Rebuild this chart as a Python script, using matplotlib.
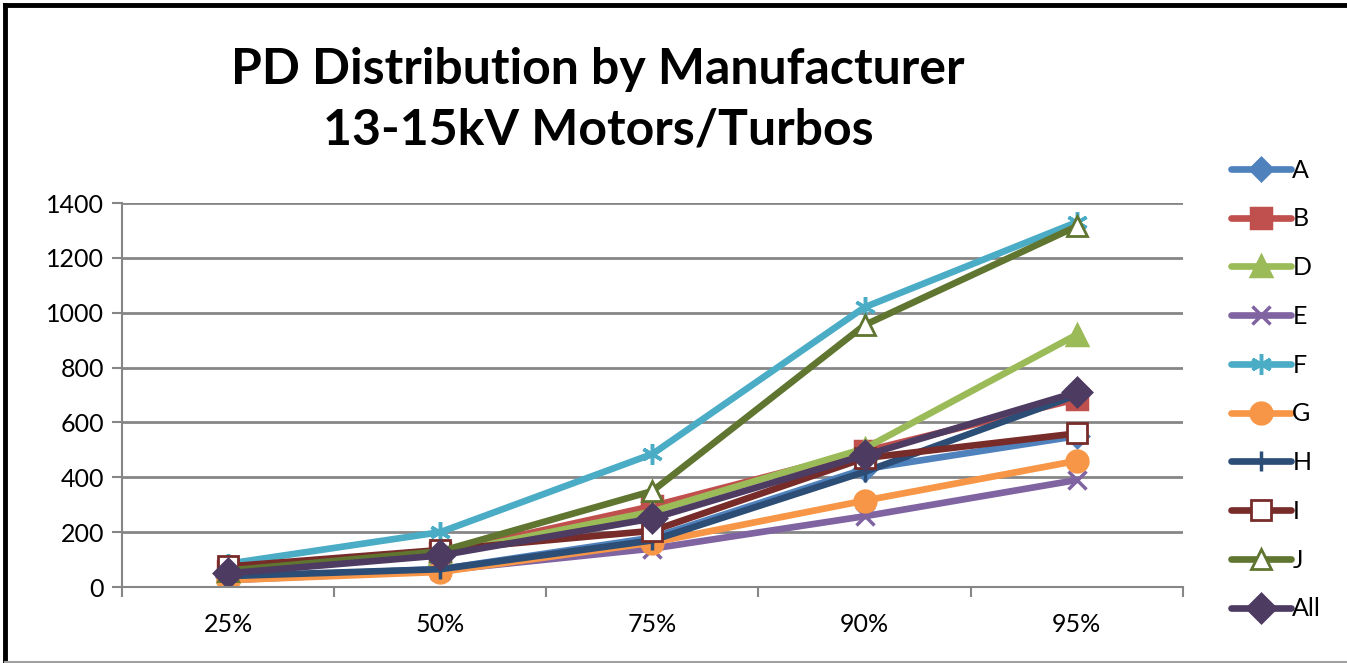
import numpy as np
import matplotlib
matplotlib.use("Agg")
import matplotlib.pyplot as plt
from matplotlib.lines import Line2D

plt.rcParams['font.family'] = ['Lato', 'DejaVu Sans']

# Datos
categorias = ["25%", "50%", "75%", "90%", "95%"]
series_nombres = ["A", "B", "D", "E", "F", "G", "H", "I", "J", "All"]

vals_A = [35, 65, 180, 430, 550]
vals_B = [60, 125, 295, 495, 685]
vals_D = [55, 120, 275, 505, 920]
vals_E = [25, 60, 140, 258, 390]
vals_F = [85, 200, 485, 1020, 1330]
vals_G = [25, 55, 162, 315, 460]
vals_H = [40, 65, 170, 420, 700]
vals_I = [75, 135, 205, 470, 560]
vals_J = [60, 130, 350, 955, 1315]
vals_All = [50, 115, 250, 480, 710]

valores = [vals_A, vals_B, vals_D, vals_E, vals_F, vals_G, vals_H, vals_I, vals_J, vals_All]

colores = ["#4F81BD", "#C0504D", "#9BBB59", "#8064A2", "#4BACC6",
           "#F79646", "#2C4D75", "#772C2A", "#5F7530", "#4D3B62"]
marcadores = ["D", "s", "^", "x", (6, 2, 0), "o", "|", "s", "^", "D"]
tamanos = [11, 15, 14, 13, 15, 15, 15, 14, 14, 14]
relleno = [None, None, None, None, None, None, None, "white", "white", None]

fig = plt.figure(figsize=(13.47, 6.63), dpi=100)
ax = fig.add_axes([0.0906, 0.1146, 0.7875, 0.5792])

x = np.arange(len(categorias))
for nombre, v, c, m, ms, fc in zip(series_nombres, valores, colores, marcadores, tamanos, relleno):
    mew = 2.0 if fc == "white" else 2.5
    ax.plot(x, v, color=c, lw=4.8, marker=m, markersize=ms,
            markerfacecolor=fc if fc else c, markeredgecolor=c,
            markeredgewidth=mew, label=nombre, solid_capstyle='round')

ax.set_xlim(-0.5, len(categorias) - 0.5)
ax.set_ylim(0, 1400)
ax.set_yticks(np.arange(0, 1401, 200))
ax.set_xticks(x)
ax.set_xticklabels(categorias)
ax.set_xticks(np.arange(-0.5, len(categorias), 1), minor=True)
ax.tick_params(axis='x', which='major', length=0, labelsize=18, pad=19)
ax.tick_params(axis='x', which='minor', length=7, width=1.5, color="#868686")
ax.tick_params(axis='y', length=7, width=1.5, color="#868686", labelsize=18, pad=6)
ax.yaxis.grid(True, color="#868686", lw=2)
ax.set_axisbelow(True)
for s in ["top", "right"]:
    ax.spines[s].set_visible(False)
for s in ["left", "bottom"]:
    ax.spines[s].set_color("#868686")
    ax.spines[s].set_linewidth(1.5)

fig.text(0.444, 0.849, "PD Distribution by Manufacturer\n13-15kV Motors/Turbos",
         ha='center', va='center', fontsize=36, fontweight='bold', linespacing=1.42)

leg = fig.legend(loc='upper left', bbox_to_anchor=(0.9065, 0.776), frameon=False,
                 fontsize=18, handlelength=2.4, handletextpad=0.05,
                 labelspacing=1.03, borderaxespad=0)

# marco de la figura
fig.add_artist(Line2D([0.004, 1.0], [0.992, 0.992], color='black', lw=3.5,
                      transform=fig.transFigure))
fig.add_artist(Line2D([0.004, 0.004], [0.0, 0.992], color='black', lw=3.5,
                      transform=fig.transFigure))
fig.add_artist(Line2D([0.004, 1.0], [0.002, 0.002], color='#a0a0a0', lw=1.5,
                      transform=fig.transFigure))

fig.savefig("out.png", dpi=100)
